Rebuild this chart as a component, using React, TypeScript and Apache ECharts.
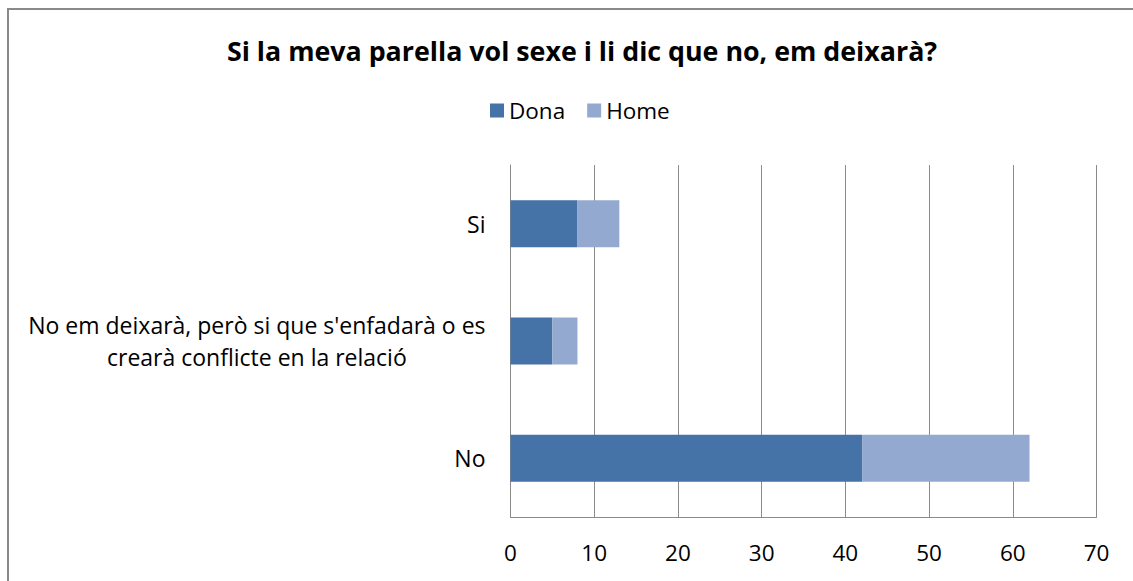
import React, { useEffect, useRef } from "react";
import * as echarts from "echarts";

const titleText = "Si la meva parella vol sexe i li dic que no, em deixarà?";
const categories = [
  "No",
  "No em deixarà, però si que s'enfadarà o es\ncrearà conflicte en la relació",
  "Si",
];
const dona = [42, 5, 8];
const home = [20, 3, 5];
const xTicks = [0, 10, 20, 30, 40, 50, 60, 70];

const FONT = "'Open Sans', 'Noto Sans', sans-serif";

export default function App() {
  const ref = useRef<HTMLDivElement>(null);
  useEffect(() => {
    if (!ref.current) return;
    const chart = echarts.init(ref.current, null, { renderer: "svg" });
    chart.setOption({
      animation: false,
      backgroundColor: "#ffffff",
      title: {
        text: titleText,
        left: 577,
        textAlign: "center",
        top: 32,
        textStyle: { fontFamily: FONT, fontWeight: "bold", fontSize: 26.8, color: "#000" },
      },
      legend: {
        top: 94,
        left: 485,
        icon: "rect",
        itemWidth: 14,
        itemHeight: 14,
        itemGap: 22,
        textStyle: { fontFamily: FONT, fontSize: 22.5, color: "#000" },
        data: ["Dona", "Home"],
      },
      grid: { left: 510.5, right: 36.5, top: 165, bottom: 64 },
      xAxis: {
        type: "value",
        min: xTicks[0],
        max: xTicks[xTicks.length - 1],
        interval: 10,
        axisLine: { show: true, lineStyle: { color: "#8a8a8a", width: 1 } },
        axisTick: { show: false },
        splitLine: { show: true, lineStyle: { color: "#8a8a8a", width: 1 } },
        axisLabel: { fontFamily: FONT, fontSize: 22.5, color: "#000", margin: 24 },
      },
      yAxis: {
        type: "category",
        data: categories,
        axisLine: { show: true, lineStyle: { color: "#8a8a8a", width: 1 } },
        axisTick: { show: false },
        axisLabel: {
          margin: 25,
          fontFamily: FONT,
          fontSize: 23,
          color: "#000",
          lineHeight: 32,
          formatter: (v: string) =>
            v
              .split("\n")
              .map((l) => "{c|" + l + "}")
              .join("\n"),
          rich: {
            c: { align: "center", fontFamily: FONT, fontSize: 23, color: "#000", lineHeight: 32 },
          },
        },
      },
      series: [
        {
          name: "Dona",
          type: "bar",
          stack: "t",
          data: dona,
          barWidth: 47,
          itemStyle: { color: "#4572A7" },
        },
        {
          name: "Home",
          type: "bar",
          stack: "t",
          data: home,
          barWidth: 47,
          itemStyle: { color: "#93A9CF" },
        },
      ],
      graphic: [
        {
          type: "rect",
          shape: { x: 8, y: 9, width: 2000, height: 2000 },
          style: { fill: "none", stroke: "#8a8a8a", lineWidth: 2 },
          silent: true,
        },
      ],
    });
    return () => chart.dispose();
  }, []);
  return (
    <div
      ref={ref}
      style={{ position: "absolute", left: 0, top: 0, width: 1133, height: 581 }}
    />
  );
}
